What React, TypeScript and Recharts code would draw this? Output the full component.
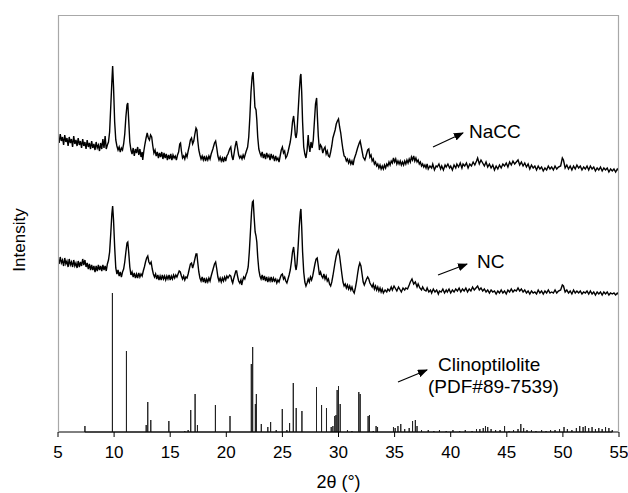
import { LineChart, Line, XAxis, YAxis } from 'recharts';

// 2θ (deg) and intensity (arbitrary units, offset per pattern)
const naccTrace: [number, number][] = [
  [5.0, 296], [5.1, 289], [5.2, 298], [5.3, 291], [5.4, 295], [5.5, 287], [5.6, 297], [5.7, 290], [5.8, 294], [5.9, 286],
  [6.0, 295], [6.1, 289], [6.2, 293], [6.3, 285], [6.4, 296], [6.5, 288], [6.6, 292], [6.7, 286], [6.8, 294], [6.9, 287],
  [7.0, 291], [7.1, 284], [7.2, 293], [7.3, 286], [7.4, 290], [7.5, 283], [7.6, 292], [7.7, 285], [7.8, 289], [7.9, 283],
  [8.0, 291], [8.1, 284], [8.2, 288], [8.3, 282], [8.4, 290], [8.5, 284], [8.6, 287], [8.7, 281], [8.8, 289], [8.9, 283],
  [9.0, 293], [9.1, 284], [9.2, 296], [9.3, 283], [9.4, 287], [9.5, 290], [9.6, 300], [9.7, 325], [9.8, 350], [9.87, 366],
  [9.95, 345], [10.05, 310], [10.15, 292], [10.25, 286], [10.35, 282], [10.45, 285], [10.55, 280], [10.65, 284], [10.75, 282], [10.85, 288],
  [10.95, 298], [11.05, 315], [11.15, 327], [11.22, 329], [11.3, 312], [11.4, 290], [11.5, 282], [11.6, 278], [11.7, 284], [11.8, 276],
  [11.9, 283], [12.0, 279], [12.1, 285], [12.2, 277], [12.3, 283], [12.4, 275], [12.5, 280], [12.55, 272], [12.65, 281], [12.75, 288],
  [12.85, 294], [12.95, 299], [13.05, 294], [13.15, 292], [13.25, 297], [13.35, 295], [13.45, 286], [13.55, 279], [13.65, 282], [13.75, 276],
  [13.85, 280], [13.95, 274], [14.05, 279], [14.15, 275], [14.25, 280], [14.35, 273], [14.45, 279], [14.55, 274], [14.65, 278], [14.75, 272],
  [14.85, 277], [14.95, 273], [15.05, 278], [15.15, 272], [15.25, 277], [15.35, 274], [15.45, 276], [15.55, 272], [15.65, 277], [15.75, 280],
  [15.85, 288], [15.92, 289], [16.0, 281], [16.1, 274], [16.2, 276], [16.3, 273], [16.4, 278], [16.5, 275], [16.6, 281], [16.7, 286],
  [16.8, 292], [16.9, 294], [17.0, 288], [17.1, 291], [17.2, 298], [17.3, 304], [17.38, 302], [17.45, 292], [17.55, 282], [17.65, 277],
  [17.75, 273], [17.85, 276], [17.95, 272], [18.05, 276], [18.15, 271], [18.25, 275], [18.35, 272], [18.45, 276], [18.55, 273], [18.65, 278],
  [18.8, 283], [18.95, 289], [19.05, 291], [19.15, 284], [19.25, 276], [19.35, 272], [19.45, 275], [19.55, 271], [19.65, 274], [19.75, 270],
  [19.85, 275], [19.95, 271], [20.05, 276], [20.15, 278], [20.3, 283], [20.4, 285], [20.5, 276], [20.6, 272], [20.7, 279], [20.8, 286],
  [20.9, 291], [21.0, 284], [21.1, 277], [21.2, 274], [21.3, 276], [21.4, 273], [21.5, 277], [21.6, 274], [21.75, 280], [21.9, 285],
  [22.0, 295], [22.1, 315], [22.2, 340], [22.3, 355], [22.38, 360], [22.46, 345], [22.55, 325], [22.65, 322], [22.72, 312], [22.8, 295],
  [22.9, 283], [23.0, 279], [23.1, 276], [23.2, 280], [23.3, 274], [23.4, 278], [23.5, 273], [23.6, 279], [23.7, 275], [23.8, 277],
  [23.9, 272], [24.0, 278], [24.1, 274], [24.2, 276], [24.3, 271], [24.4, 276], [24.5, 272], [24.6, 274], [24.7, 270], [24.8, 276],
  [24.9, 282], [25.0, 285], [25.1, 279], [25.2, 281], [25.3, 274], [25.4, 276], [25.5, 280], [25.6, 285], [25.7, 290], [25.8, 298],
  [25.9, 310], [26.0, 316], [26.1, 305], [26.15, 297], [26.22, 294], [26.3, 300], [26.4, 320], [26.5, 340], [26.6, 356], [26.65, 358],
  [26.72, 340], [26.8, 310], [26.9, 285], [27.0, 278], [27.1, 274], [27.2, 282], [27.3, 297], [27.35, 288], [27.45, 280], [27.55, 290],
  [27.65, 284], [27.75, 292], [27.85, 310], [27.95, 328], [28.05, 334], [28.12, 315], [28.2, 296], [28.3, 282], [28.4, 287], [28.5, 285],
  [28.6, 279], [28.7, 283], [28.8, 285], [28.9, 278], [29.0, 281], [29.1, 276], [29.2, 275], [29.3, 280], [29.4, 286], [29.5, 294],
  [29.6, 298], [29.7, 302], [29.8, 308], [29.9, 311], [30.0, 313], [30.1, 305], [30.2, 299], [30.3, 290], [30.4, 282], [30.5, 276],
  [30.6, 275], [30.7, 271], [30.8, 273], [30.9, 269], [31.0, 272], [31.1, 268], [31.2, 271], [31.3, 267], [31.4, 273], [31.55, 278],
  [31.7, 284], [31.85, 289], [31.93, 291], [32.05, 284], [32.2, 275], [32.35, 272], [32.5, 278], [32.6, 282], [32.7, 283], [32.8, 275],
  [32.9, 277], [33.0, 271], [33.1, 273], [33.2, 268], [33.3, 270], [33.4, 266], [33.5, 268], [33.6, 264], [33.7, 267], [33.8, 263],
  [33.9, 266], [34.0, 263], [34.1, 267], [34.2, 264], [34.3, 268], [34.4, 266], [34.5, 270], [34.6, 267], [34.7, 271], [34.8, 269],
  [34.9, 274], [35.0, 270], [35.1, 273], [35.2, 268], [35.3, 271], [35.4, 268], [35.5, 271], [35.6, 267], [35.7, 270], [35.8, 267],
  [35.9, 271], [36.0, 268], [36.1, 272], [36.2, 269], [36.3, 273], [36.4, 270], [36.5, 275], [36.6, 272], [36.7, 276], [36.8, 271],
  [36.9, 274], [37.0, 270], [37.1, 272], [37.2, 268], [37.3, 270], [37.4, 266], [37.5, 268], [37.6, 265], [37.7, 267], [37.8, 264],
  [37.9, 268], [38.0, 263], [38.15, 266], [38.3, 264], [38.4, 268], [38.55, 262], [38.7, 266], [38.8, 265], [38.95, 268], [39.1, 263],
  [39.2, 266], [39.35, 262], [39.5, 267], [39.6, 265], [39.75, 268], [39.9, 264], [40.0, 266], [40.15, 262], [40.3, 267], [40.45, 264],
  [40.55, 268], [40.7, 265], [40.85, 269], [41.0, 264], [41.1, 268], [41.25, 266], [41.4, 269], [41.55, 264], [41.7, 268], [41.85, 266],
  [42.0, 270], [42.15, 267], [42.3, 271], [42.4, 274], [42.55, 268], [42.7, 272], [42.85, 269], [43.0, 266], [43.15, 270], [43.3, 265],
  [43.45, 268], [43.6, 264], [43.75, 267], [43.9, 262], [44.05, 266], [44.2, 263], [44.35, 267], [44.5, 264], [44.65, 268], [44.8, 266],
  [44.95, 269], [45.1, 265], [45.25, 270], [45.4, 267], [45.55, 271], [45.7, 268], [45.85, 270], [46.0, 272], [46.15, 267], [46.3, 270],
  [46.45, 266], [46.6, 269], [46.75, 265], [46.9, 268], [47.05, 263], [47.2, 267], [47.35, 264], [47.5, 266], [47.65, 262], [47.8, 266],
  [47.95, 263], [48.1, 265], [48.25, 261], [48.4, 264], [48.55, 262], [48.7, 266], [48.85, 263], [49.0, 265], [49.15, 262], [49.3, 266],
  [49.45, 263], [49.6, 265], [49.8, 266], [49.95, 274], [50.05, 272], [50.2, 264], [50.35, 267], [50.5, 263], [50.65, 266], [50.8, 262],
  [50.95, 266], [51.1, 263], [51.25, 267], [51.4, 264], [51.55, 266], [51.7, 262], [51.85, 265], [52.0, 263], [52.15, 266], [52.3, 262],
  [52.45, 266], [52.6, 263], [52.75, 265], [52.9, 261], [53.05, 264], [53.2, 262], [53.35, 265], [53.5, 261], [53.65, 264], [53.8, 262],
  [53.95, 264], [54.1, 260], [54.25, 263], [54.4, 261], [54.55, 263], [54.7, 260], [54.85, 263], [55.0, 261],
];

const ncTrace: [number, number][] = [
  [5.0, 173], [5.1, 168], [5.2, 175], [5.3, 169], [5.4, 172], [5.5, 166], [5.6, 174], [5.7, 168], [5.8, 171], [5.9, 165],
  [6.0, 173], [6.1, 167], [6.2, 170], [6.3, 165], [6.4, 172], [6.5, 166], [6.6, 169], [6.7, 164], [6.8, 171], [6.9, 165],
  [7.0, 170], [7.1, 166], [7.2, 173], [7.3, 167], [7.4, 172], [7.5, 165], [7.6, 169], [7.7, 163], [7.8, 168], [7.9, 162],
  [8.0, 167], [8.1, 162], [8.2, 166], [8.3, 160], [8.4, 166], [8.5, 161], [8.6, 167], [8.7, 162], [8.8, 166], [8.9, 161],
  [9.0, 167], [9.1, 162], [9.2, 166], [9.3, 161], [9.4, 168], [9.5, 172], [9.6, 180], [9.7, 198], [9.8, 218], [9.87, 226],
  [9.95, 212], [10.05, 185], [10.15, 164], [10.25, 158], [10.35, 162], [10.45, 156], [10.55, 160], [10.65, 155], [10.75, 160], [10.85, 163],
  [10.95, 170], [11.05, 180], [11.15, 189], [11.22, 190], [11.3, 180], [11.4, 165], [11.5, 157], [11.6, 160], [11.7, 155], [11.8, 159],
  [11.9, 154], [12.0, 158], [12.1, 154], [12.2, 159], [12.3, 155], [12.4, 158], [12.5, 156], [12.6, 161], [12.7, 165], [12.8, 170],
  [12.9, 174], [13.0, 176], [13.1, 170], [13.2, 168], [13.3, 170], [13.4, 163], [13.5, 158], [13.6, 155], [13.7, 158], [13.8, 153],
  [13.9, 157], [14.0, 152], [14.1, 156], [14.2, 152], [14.3, 157], [14.4, 153], [14.5, 156], [14.6, 152], [14.7, 156], [14.8, 153],
  [14.9, 157], [15.0, 152], [15.1, 156], [15.2, 153], [15.3, 157], [15.4, 154], [15.5, 157], [15.6, 155], [15.7, 158], [15.8, 161],
  [15.9, 160], [16.0, 156], [16.1, 153], [16.2, 156], [16.3, 152], [16.4, 155], [16.5, 154], [16.6, 158], [16.7, 163], [16.8, 168],
  [16.9, 169], [17.0, 164], [17.1, 168], [17.2, 173], [17.3, 178], [17.38, 178], [17.45, 170], [17.55, 160], [17.65, 154], [17.75, 151],
  [17.85, 155], [17.95, 150], [18.05, 154], [18.15, 149], [18.25, 153], [18.35, 150], [18.45, 154], [18.55, 151], [18.65, 156], [18.8, 162],
  [18.95, 168], [19.05, 170], [19.15, 163], [19.25, 155], [19.35, 151], [19.45, 154], [19.55, 150], [19.65, 154], [19.75, 151], [19.85, 155],
  [19.95, 152], [20.05, 156], [20.15, 154], [20.3, 157], [20.4, 156], [20.5, 151], [20.57, 149], [20.65, 153], [20.75, 157], [20.85, 161],
  [20.92, 161], [21.0, 156], [21.1, 151], [21.2, 149], [21.3, 152], [21.37, 147], [21.45, 151], [21.55, 155], [21.65, 153], [21.75, 157],
  [21.85, 160], [21.95, 165], [22.05, 180], [22.15, 200], [22.25, 220], [22.33, 230], [22.4, 231], [22.48, 215], [22.57, 200], [22.65, 196],
  [22.72, 190], [22.8, 175], [22.9, 162], [23.0, 156], [23.1, 153], [23.2, 157], [23.3, 152], [23.4, 156], [23.5, 151], [23.6, 155],
  [23.7, 150], [23.8, 154], [23.9, 151], [24.0, 155], [24.1, 150], [24.2, 154], [24.3, 151], [24.4, 153], [24.5, 149], [24.6, 152],
  [24.7, 150], [24.8, 154], [24.9, 157], [25.0, 158], [25.1, 153], [25.2, 155], [25.3, 151], [25.4, 149], [25.5, 153], [25.6, 157],
  [25.7, 162], [25.8, 170], [25.9, 180], [26.0, 185], [26.08, 176], [26.15, 166], [26.22, 162], [26.3, 168], [26.4, 185], [26.5, 205],
  [26.6, 220], [26.65, 223], [26.72, 205], [26.8, 180], [26.9, 160], [27.0, 150], [27.1, 146], [27.2, 149], [27.3, 153], [27.4, 150],
  [27.5, 155], [27.6, 152], [27.7, 156], [27.8, 162], [27.9, 168], [28.0, 173], [28.1, 174], [28.2, 166], [28.3, 157], [28.4, 160],
  [28.5, 156], [28.6, 154], [28.7, 158], [28.8, 153], [28.9, 156], [29.0, 151], [29.1, 153], [29.2, 148], [29.3, 146], [29.4, 150],
  [29.5, 156], [29.6, 163], [29.7, 170], [29.8, 176], [29.9, 180], [30.0, 182], [30.1, 176], [30.2, 167], [30.3, 158], [30.4, 150],
  [30.5, 146], [30.6, 148], [30.7, 144], [30.8, 147], [30.9, 143], [31.0, 146], [31.1, 142], [31.2, 145], [31.3, 141], [31.4, 139],
  [31.5, 144], [31.6, 150], [31.7, 158], [31.8, 165], [31.9, 169], [32.0, 166], [32.1, 158], [32.2, 150], [32.3, 147], [32.4, 150],
  [32.5, 153], [32.6, 155], [32.7, 153], [32.8, 149], [32.9, 147], [33.0, 145], [33.1, 148], [33.2, 143], [33.3, 146], [33.4, 142],
  [33.5, 145], [33.6, 141], [33.7, 144], [33.8, 140], [33.9, 143], [34.0, 139], [34.15, 142], [34.3, 140], [34.4, 143], [34.55, 141],
  [34.7, 145], [34.8, 142], [34.95, 146], [35.1, 143], [35.2, 141], [35.35, 145], [35.5, 142], [35.6, 140], [35.75, 144], [35.9, 142],
  [36.0, 144], [36.15, 143], [36.3, 147], [36.4, 150], [36.55, 153], [36.7, 148], [36.85, 150], [37.0, 145], [37.1, 148], [37.25, 144],
  [37.4, 142], [37.5, 145], [37.65, 142], [37.8, 141], [37.9, 144], [38.05, 140], [38.2, 142], [38.3, 139], [38.45, 143], [38.6, 140],
  [38.75, 142], [38.9, 138], [39.0, 141], [39.15, 140], [39.3, 143], [39.45, 139], [39.6, 142], [39.7, 140], [39.85, 143], [40.0, 139],
  [40.15, 142], [40.3, 140], [40.45, 143], [40.6, 141], [40.75, 144], [40.9, 140], [41.05, 143], [41.2, 141], [41.35, 144], [41.5, 140],
  [41.65, 143], [41.8, 141], [41.95, 145], [42.1, 142], [42.25, 144], [42.4, 146], [42.55, 142], [42.7, 144], [42.85, 141], [43.0, 143],
  [43.15, 140], [43.3, 142], [43.45, 139], [43.6, 142], [43.75, 140], [43.9, 141], [44.05, 138], [44.2, 141], [44.35, 139], [44.5, 142],
  [44.65, 139], [44.8, 141], [44.95, 138], [45.1, 142], [45.25, 140], [45.4, 143], [45.55, 140], [45.7, 142], [45.85, 141], [46.0, 144],
  [46.15, 141], [46.3, 143], [46.45, 140], [46.6, 142], [46.75, 139], [46.9, 141], [47.05, 138], [47.2, 141], [47.35, 139], [47.5, 140],
  [47.65, 138], [47.8, 142], [47.95, 139], [48.1, 141], [48.25, 138], [48.4, 141], [48.55, 139], [48.7, 142], [48.85, 139], [49.0, 140],
  [49.15, 139], [49.3, 142], [49.45, 139], [49.6, 141], [49.8, 142], [49.95, 147], [50.05, 146], [50.2, 140], [50.35, 142], [50.5, 139],
  [50.65, 141], [50.8, 138], [50.95, 142], [51.1, 139], [51.25, 141], [51.4, 139], [51.55, 141], [51.7, 138], [51.85, 140], [52.0, 139],
  [52.15, 141], [52.3, 138], [52.45, 141], [52.6, 138], [52.75, 140], [52.9, 137], [53.05, 140], [53.2, 138], [53.35, 140], [53.5, 137],
  [53.65, 140], [53.8, 138], [53.95, 140], [54.1, 137], [54.25, 139], [54.4, 138], [54.55, 139], [54.7, 137], [54.85, 139], [55.0, 137],
];

// Clinoptilolite reference pattern (PDF#89-7539): position, relative height
const refPeaks: [number, number][] = [
  [7.4, 6], [9.85, 139], [11.1, 81], [12.86, 7], [13.0, 30], [13.27, 12], [14.88, 11], [16.3, 1], [16.6, 2], [16.83, 22],
  [17.22, 38], [17.43, 7], [19.03, 27], [20.33, 16], [22.23, 68], [22.35, 85], [22.59, 28], [22.68, 38], [23.12, 8], [23.7, 5],
  [23.95, 10], [24.45, 2], [24.99, 23], [25.4, 2], [25.64, 9], [25.97, 49], [26.23, 24], [26.74, 21], [28.04, 45], [28.49, 27],
  [28.93, 24], [29.35, 5], [29.5, 6], [29.67, 16], [29.78, 17], [29.88, 42], [30.0, 46], [30.15, 28], [30.8, 2], [31.2, 1],
  [31.81, 40], [31.93, 38], [32.64, 16], [32.76, 17], [33.1, 1], [33.35, 6], [33.48, 5], [34.9, 5], [35.05, 4], [35.3, 6],
  [35.55, 8], [35.9, 3], [36.3, 4], [36.6, 11], [36.85, 12], [37.0, 6], [37.4, 2], [38.0, 2], [38.5, 1], [39.0, 2],
  [39.6, 1], [40.2, 2], [40.8, 1], [41.3, 2], [41.9, 1], [42.3, 3], [42.6, 3], [42.9, 4], [43.1, 6], [43.3, 5],
  [43.6, 3], [44.0, 2], [44.4, 2], [44.8, 6], [45.2, 1], [45.6, 2], [46.0, 3], [46.25, 8], [46.5, 4], [46.8, 2],
  [47.2, 2], [47.6, 1], [48.1, 2], [48.5, 1], [48.9, 2], [49.3, 2], [49.7, 3], [50.1, 5], [50.4, 3], [50.8, 2],
  [51.2, 4], [51.5, 6], [51.8, 5], [52.0, 6], [52.3, 4], [52.6, 5], [52.9, 3], [53.2, 4], [53.5, 3], [53.8, 5],
  [54.1, 4], [54.4, 2],
];

const xTicks = [5, 10, 15, 20, 25, 30, 35, 40, 45, 50, 55];

const toPoints = (arr: [number, number][]) => arr.map(([x, y]) => ({ x, y }));
const stickPoints = refPeaks.flatMap(([x, h]) => [
  { x, y: 0 },
  { x, y: h },
  { x, y: 0 },
]);

const font = 'Arial, "Liberation Sans", Helvetica, sans-serif';

export default function App() {
  return (
    <div style={{ position: 'absolute', left: 0, top: 0, width: 628, height: 493, background: '#fff', fontFamily: font }}>
      <LineChart width={628} height={493} margin={{ top: 15, right: 9, bottom: 0, left: 58 }}>
        <XAxis
          type="number"
          dataKey="x"
          domain={[5, 55]}
          ticks={xTicks}
          allowDataOverflow
          height={61}
          stroke="#000"
          tickSize={5}
          tickMargin={9}
          tick={{ fill: '#000', fontSize: 17, fontFamily: font }}
          label={{ value: '2θ (°)', position: 'insideBottom', offset: 5, fill: '#000', fontSize: 18, fontFamily: font }}
        />
        <YAxis type="number" domain={[0, 417]} width={0} tick={false} tickLine={false} axisLine={false} />
        <Line data={toPoints(naccTrace)} dataKey="y" type="linear" stroke="#000" strokeWidth={1.4} dot={false} isAnimationActive={false} />
        <Line data={toPoints(ncTrace)} dataKey="y" type="linear" stroke="#000" strokeWidth={1.4} dot={false} isAnimationActive={false} />
        <Line data={stickPoints} dataKey="y" type="linear" stroke="#222" strokeWidth={1} dot={false} isAnimationActive={false} />
      </LineChart>
      <svg width={628} height={493} style={{ position: 'absolute', left: 0, top: 0, pointerEvents: 'none' }}>
        <defs>
          <marker id="arr" markerWidth="10" markerHeight="8" refX="9" refY="4" orient="auto" markerUnits="userSpaceOnUse">
            <path d="M0,0 L10,4 L0,8 z" fill="#000" />
          </marker>
        </defs>
        <path d="M58.5,432 L58.5,15.5 L618.5,15.5 L618.5,432" fill="none" stroke="#a8a8a8" strokeWidth={1.2} />
        <text x={19} y={240} transform="rotate(-90 19 240)" textAnchor="middle" dominantBaseline="central" fontSize={17} fontFamily={font} fill="#000">
          Intensity
        </text>
        <line x1={433} y1={147} x2={463} y2={133} stroke="#000" strokeWidth={1.2} markerEnd="url(#arr)" />
        <text x={469} y={138} fontSize={19} fontFamily={font} fill="#000">NaCC</text>
        <line x1={438} y1={275} x2={467} y2={264} stroke="#000" strokeWidth={1.2} markerEnd="url(#arr)" />
        <text x={477} y={268} fontSize={19} fontFamily={font} fill="#000">NC</text>
        <line x1={398} y1={382} x2={427} y2={370} stroke="#000" strokeWidth={1.2} markerEnd="url(#arr)" />
        <text x={438} y={371} fontSize={19} fontFamily={font} fill="#000">Clinoptilolite</text>
        <text x={428} y={393} fontSize={19} fontFamily={font} fill="#000">(PDF#89-7539)</text>
      </svg>
    </div>
  );
}
